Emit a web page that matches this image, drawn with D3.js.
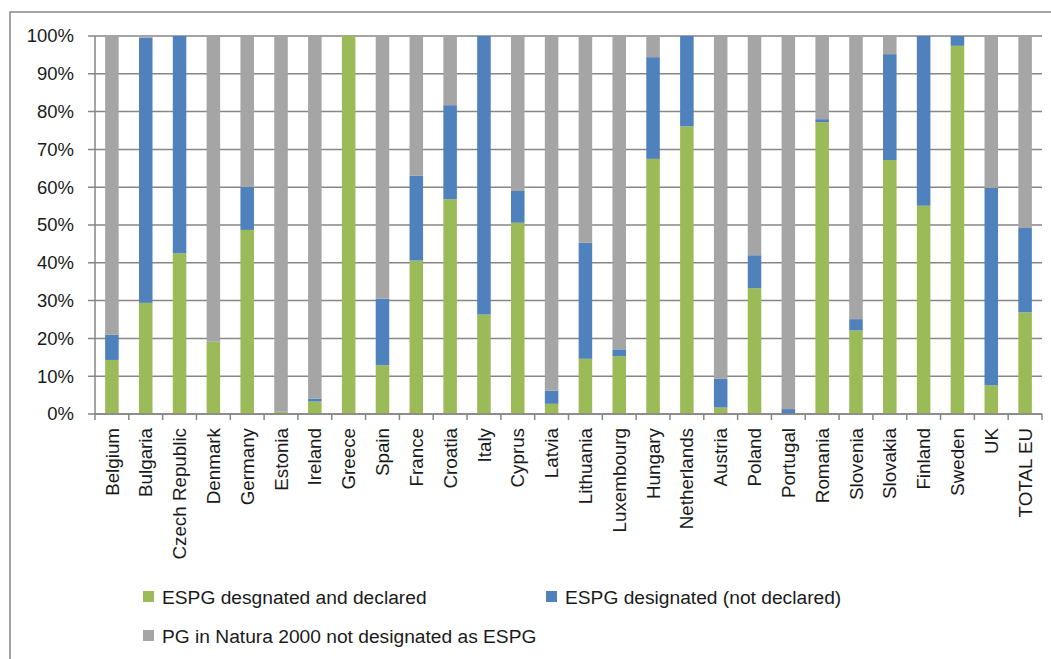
<!DOCTYPE html>
<html>
<head>
<meta charset="utf-8">
<script src="https://cdn.jsdelivr.net/npm/d3@7/dist/d3.min.js"></script>
<style>
  html, body { margin: 0; padding: 0; background: #fff; }
  svg { display: block; font-family: "Liberation Sans", Arial, sans-serif; }
</style>
</head>
<body>
<svg id="chart" width="1051" height="659"></svg>
<script>
// Country categories along the x axis
const countries = ["Belgium", "Bulgaria", "Czech Republic", "Denmark", "Germany", "Estonia",
  "Ireland", "Greece", "Spain", "France", "Croatia", "Italy", "Cyprus", "Latvia", "Lithuania",
  "Luxembourg", "Hungary", "Netherlands", "Austria", "Poland", "Portugal", "Romania",
  "Slovenia", "Slovakia", "Finland", "Sweden", "UK", "TOTAL EU"];

// Shares of permanent grassland in Natura 2000 (%)
const designatedDeclared = [14.3, 29.4, 42.5, 19.1, 48.7, 0.6, 3.3, 100, 12.9, 40.6, 56.8, 26.3,
  50.6, 2.7, 14.6, 15.3, 67.5, 76.1, 1.7, 33.3, 0, 77.2, 22.1, 67.2, 55.1, 97.4, 7.6, 26.9];
const designatedNotDeclared = [6.7, 70.2, 57.5, 0, 11.4, 0, 0.8, 0, 17.6, 22.4, 24.9, 73.7,
  8.4, 3.5, 30.7, 1.8, 26.9, 23.9, 7.6, 8.7, 1.3, 0.8, 3.0, 28.0, 44.9, 2.6, 52.2, 22.3];
const notDesignated = [79.0, 0.4, 0, 80.9, 39.9, 99.4, 95.9, 0, 69.5, 37.0, 18.3, 0,
  41.0, 93.8, 54.7, 82.9, 5.6, 0, 90.7, 58.0, 98.7, 22.0, 74.9, 4.8, 0, 0, 40.2, 50.8];

const yTicks = [0, 10, 20, 30, 40, 50, 60, 70, 80, 90, 100];

const seriesNames = ["ESPG desgnated and declared", "ESPG designated (not declared)",
  "PG in Natura 2000 not designated as ESPG"];
const seriesColors = ["#9BBB59", "#4F81BD", "#A5A5A5"];
const seriesKeys = ["declared", "notDeclared", "notDesignated"];

const rows = countries.map((c, i) => ({
  country: c,
  declared: designatedDeclared[i],
  notDeclared: designatedNotDeclared[i],
  notDesignated: notDesignated[i]
}));

const svg = d3.select("#chart");
const gridColor = "#868686";
const textColor = "#1a1a1a";

// Outer chart frame
svg.append("rect")
  .attr("x", 10).attr("y", 12)
  .attr("width", 1100).attr("height", 700)
  .attr("fill", "none").attr("stroke", gridColor).attr("stroke-width", 1.5);

const plot = { left: 95, right: 1042, top: 36, bottom: 414 };

const x = d3.scaleBand().domain(countries).range([plot.left, plot.right]).padding(0);
const y = d3.scaleLinear().domain([0, 100]).range([plot.bottom, plot.top]);

// Horizontal gridlines with left tick marks
svg.append("g")
  .selectAll("line")
  .data(yTicks)
  .join("line")
  .attr("x1", plot.left - 7).attr("x2", plot.right)
  .attr("y1", d => y(d)).attr("y2", d => y(d))
  .attr("stroke", gridColor).attr("stroke-width", 1.5);

// Y axis labels
svg.append("g")
  .selectAll("text")
  .data(yTicks)
  .join("text")
  .attr("x", plot.left - 21)
  .attr("y", d => y(d))
  .attr("dy", "0.35em")
  .attr("text-anchor", "end")
  .attr("font-size", 18.5)
  .attr("fill", textColor)
  .text(d => d + "%");

// Stacked bars
const stack = d3.stack().keys(seriesKeys);
const stacked = stack(rows);
const barW = x.bandwidth() * 0.4;

svg.append("g")
  .selectAll("g")
  .data(stacked)
  .join("g")
  .attr("fill", (d, i) => seriesColors[i])
  .selectAll("rect")
  .data(d => d)
  .join("rect")
  .attr("x", d => x(d.data.country) + (x.bandwidth() - barW) / 2)
  .attr("width", barW)
  .attr("y", d => y(d[1]))
  .attr("height", d => y(d[0]) - y(d[1]));

// Axis lines
svg.append("line")
  .attr("x1", plot.left).attr("x2", plot.left)
  .attr("y1", plot.top).attr("y2", plot.bottom)
  .attr("stroke", gridColor).attr("stroke-width", 1.5);
svg.append("line")
  .attr("x1", plot.left).attr("x2", plot.right)
  .attr("y1", plot.bottom).attr("y2", plot.bottom)
  .attr("stroke", gridColor).attr("stroke-width", 1.5);

// Category boundary ticks on the x axis
const boundaries = countries.map(c => x(c)).concat([plot.right]);
svg.append("g")
  .selectAll("line")
  .data(boundaries)
  .join("line")
  .attr("x1", d => d).attr("x2", d => d)
  .attr("y1", plot.bottom).attr("y2", plot.bottom + 6)
  .attr("stroke", gridColor).attr("stroke-width", 1.5);

// Rotated category labels
svg.append("g")
  .selectAll("text")
  .data(countries)
  .join("text")
  .attr("transform", d => `translate(${x(d) + x.bandwidth() / 2},${plot.bottom + 14}) rotate(-90)`)
  .attr("dy", "0.35em")
  .attr("text-anchor", "end")
  .attr("font-size", 18.8)
  .attr("fill", textColor)
  .text(d => d);

// Legend
const legendPos = [[143, 597], [546, 597], [143, 636]];
const legend = svg.append("g")
  .selectAll("g")
  .data(seriesNames)
  .join("g")
  .attr("transform", (d, i) => `translate(${legendPos[i][0]},${legendPos[i][1]})`);
legend.append("rect")
  .attr("x", 0).attr("y", -6).attr("width", 11).attr("height", 11)
  .attr("fill", (d, i) => seriesColors[i]);
legend.append("text")
  .attr("x", 19).attr("y", 0)
  .attr("dy", "0.35em")
  .attr("font-size", 19.2)
  .attr("fill", textColor)
  .text(d => d);
</script>
</body>
</html>
